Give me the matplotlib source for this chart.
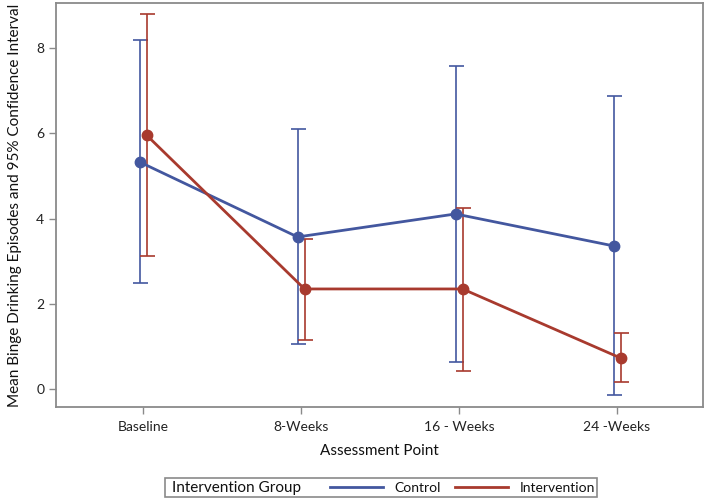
import matplotlib
matplotlib.use("Agg")
import matplotlib.pyplot as plt
from matplotlib.patches import Rectangle
from matplotlib.lines import Line2D
import numpy as np

plt.rcParams['font.family'] = ['Lato', 'DejaVu Sans']

# Data
points = ["Baseline", "8-Weeks", "16 - Weeks", "24 -Weeks"]
control_mean = [5.33, 3.57, 4.11, 3.36]
control_lower = [2.49, 1.05, 0.63, -0.14]
control_upper = [8.19, 6.10, 7.58, 6.88]
interv_mean = [5.96, 2.35, 2.35, 0.73]
interv_lower = [3.12, 1.16, 0.42, 0.16]
interv_upper = [8.81, 3.53, 4.25, 1.31]

blue = "#43579F"
red = "#A83A2E"
grey = "#8a8a8a"

fig = plt.figure(figsize=(7.08, 5.01), dpi=100, facecolor='white')
ax = fig.add_axes([56/708, 1 - 407/501, (703 - 56)/708, (407 - 3)/501])

x = np.arange(len(points))
off = 0.022
for xs, mean, lo, hi, col in [(x - off, control_mean, control_lower, control_upper, blue),
                              (x + off, interv_mean, interv_lower, interv_upper, red)]:
    mean = np.array(mean)
    yerr = [mean - np.array(lo), np.array(hi) - mean]
    ax.errorbar(xs, mean, yerr=yerr, fmt='none', ecolor=col, elinewidth=1.2,
                capsize=5.4, capthick=1.2, zorder=2)
    ax.plot(xs, mean, '-', color=col, lw=2.0, marker='o', ms=7.5, zorder=3)

ax.set_xlim(-0.551, 3.544)
ax.set_ylim(-0.42, 9.06)
ax.set_xticks(x)
ax.set_xticklabels(points)
ax.set_yticks([0, 2, 4, 6, 8])
for s in ax.spines.values():
    s.set_color(grey)
    s.set_linewidth(1.3)
ax.tick_params(colors=grey, labelcolor="#222222", labelsize=10, length=5, width=1)
ax.tick_params(axis='x', pad=5)
ax.set_xlabel("Assessment Point", fontsize=11, color="#111111", labelpad=8)
ax.set_ylabel("Mean Binge Drinking Episodes and 95% Confidence Interval",
              fontsize=11, color="#111111", labelpad=10)

# Legend box with title at left
fig.patches.append(Rectangle((165/708, 1 - 497/501), (597 - 165)/708, 19/501,
                             transform=fig.transFigure, facecolor='white',
                             edgecolor=grey, linewidth=1.2))
fig.text(172/708, 1 - 488/501, "Intervention Group", fontsize=11,
         va='center', ha='left', color="#111111")
handles = [Line2D([], [], color=blue, lw=2.0), Line2D([], [], color=red, lw=2.0)]
fig.legend(handles, ["Control", "Intervention"], loc='center left',
           bbox_to_anchor=(330/708, 1 - 488/501), ncol=2, frameon=False,
           fontsize=10, handlelength=3.8, handletextpad=0.85, columnspacing=1.0,
           borderpad=0, borderaxespad=0, labelcolor="#111111")

fig.savefig("out.png", dpi=100)
